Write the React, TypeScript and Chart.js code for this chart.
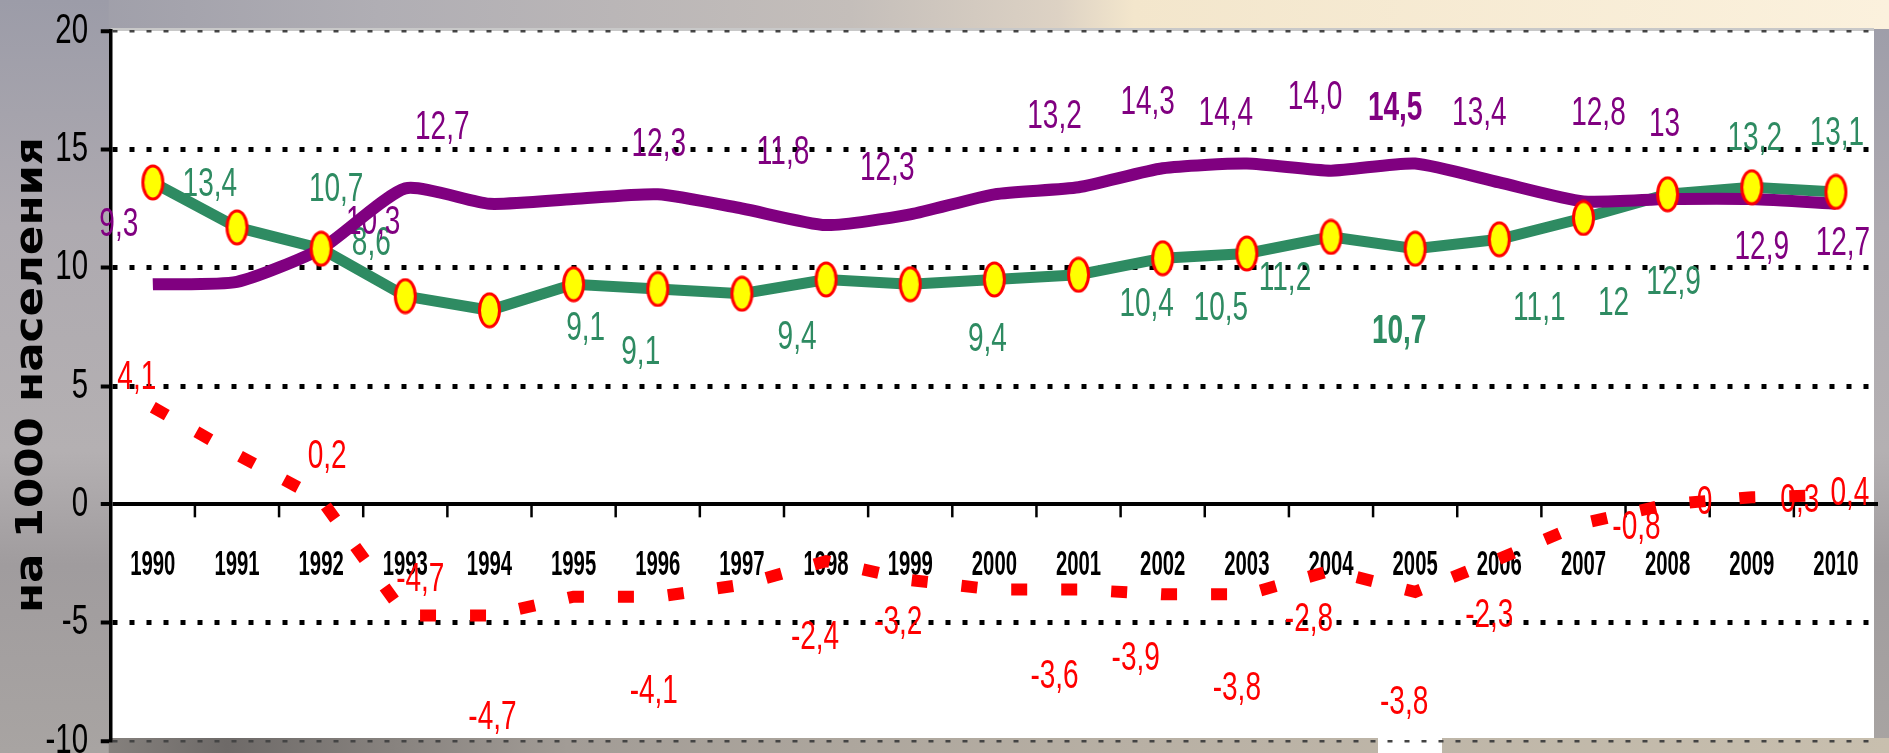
import React, { useEffect, useRef } from 'react';
import { Chart, registerables } from 'chart.js';

Chart.register(...registerables);

// ---------- data ----------
const years = ['1990', '1991', '1992', '1993', '1994', '1995', '1996', '1997', '1998', '1999', '2000',
  '2001', '2002', '2003', '2004', '2005', '2006', '2007', '2008', '2009', '2010'];

// green line with yellow markers
const birthRate = [13.6, 11.7, 10.8, 8.8, 8.2, 9.3, 9.1, 8.9, 9.5, 9.3, 9.5, 9.7, 10.4, 10.6, 11.3, 10.8, 11.2, 12.1, 13.1, 13.4, 13.2];
// purple line
const deathRate = [9.3, 9.4, 10.8, 13.35, 12.7, 12.9, 13.1, 12.5, 11.8, 12.25, 13.1, 13.4, 14.2, 14.4, 14.1, 14.4, 13.6, 12.8, 12.9, 12.9, 12.7];
// red dashed line
const naturalIncrease = [4.1, 2.1, 0.2, -4.7, -4.7, -3.9, -3.9, -3.4, -2.4, -3.2, -3.6, -3.6, -3.8, -3.8, -2.8, -3.7, -2.3, -0.8, 0, 0.3, 0.4];

// value labels as printed on the chart
const birthLabels = ['13,4', '', '10,7', '8,6', '', '9,1', '9,1', '', '9,4', '', '9,4', '', '10,4', '10,5', '11,2', '10,7', '11,1', '12', '12,9', '13,2', '13,1'];
const deathLabels = ['9,3', '', '10,3', '12,7', '', '', '12,3', '', '11,8', '12,3', '', '13,2', '14,3', '14,4', '14,0', '14,5', '13,4', '12,8', '13', '12,9', '12,7'];
const increaseLabels = ['4,1', '', '0,2', '-4,7', '-4,7', '', '-4,1', '', '-2,4', '-3,2', '', '-3,6', '-3,9', '-3,8', '-2,8', '-3,8', '-2,3', '-0,8', '0', '0,3', '0,4'];

const yMin = -10;
const yMax = 20;
const yStep = 5;
const yAxisTitle = 'на 1000 населения';

// ---------- layout / style (label placement offsets in px relative to the point) ----------
const birthLabelOffsets: (number[] | null)[] = [[57, 3], null, [15, -59], [-34, -52], null, [12, 45], [-17, 64], null, [-29, 58], null, [-7, 60], null, [-16, 47], [-26, 56], [-46, 42], [-16, 83], [40, 70], [30, 86], [6, 89], [3, -48], [1, -58]];
const deathLabelOffsets: (number[] | null)[] = [[-34, -59], null, [52, -26], [37, -60], null, null, [1, -49], null, [-43, -72], [-23, -45], null, [-24, -70], [-15, -65], [-21, -50], [-16, -73], [-20, -55], [-20, -68], [15, -87], [-3, -74], [10, 49], [7, 40]];
const increaseLabelOffsets: (number[] | null)[] = [[-16, -29], null, [6, -43], [15, -36], [3, 102], null, [-4, 95], null, [-11, 77], [-12, 43], null, [-24, 87], [-27, 65], [-10, 95], [-22, 49], [-11, 111], [-10, 57], [53, 5], [37, -1], [48, 4], [14, -1]];
const boldBirth = [15];
const boldDeath = [15];

const GREEN = '#2e8b62';
const PURPLE = '#800080';
const RED = '#ff0000';
const FONT = '"Liberation Sans", Arial, sans-serif';

function makeMarker(): HTMLCanvasElement {
  const c = document.createElement('canvas');
  c.width = 25;
  c.height = 37;
  const g = c.getContext('2d')!;
  g.beginPath();
  g.ellipse(12.5, 18.5, 10, 16.5, 0, 0, Math.PI * 2);
  g.fillStyle = '#ffff00';
  g.fill();
  g.lineWidth = 3;
  g.strokeStyle = '#ff0000';
  g.stroke();
  return c;
}

function drawText(ctx: CanvasRenderingContext2D, text: string, x: number, y: number, font: string, color: string, sx: number, align: CanvasTextAlign = 'center') {
  ctx.save();
  ctx.translate(x, y);
  ctx.scale(sx, 1);
  ctx.font = font;
  ctx.fillStyle = color;
  ctx.textAlign = align;
  ctx.textBaseline = 'middle';
  ctx.fillText(text, 0, 0);
  ctx.restore();
}

const backgroundPlugin = {
  id: 'photoBackground',
  beforeDraw(chart: any) {
    const { ctx, width, height, chartArea } = chart;
    ctx.save();
    // left strip
    const lg = ctx.createLinearGradient(0, 0, 0, height);
    lg.addColorStop(0, '#9c9ca8');
    lg.addColorStop(0.3, '#aeaab0');
    lg.addColorStop(0.6, '#b4b0b2');
    lg.addColorStop(0.75, '#a09c9e');
    lg.addColorStop(1, '#a8a4a2');
    ctx.fillStyle = lg;
    ctx.fillRect(0, 0, width, height);
    // top strip
    const tg = ctx.createLinearGradient(0, 0, width, 0);
    tg.addColorStop(0, '#9a9aa6');
    tg.addColorStop(0.2, '#b0aeb4');
    tg.addColorStop(0.45, '#c4beba');
    tg.addColorStop(0.56, '#ddd2c4');
    tg.addColorStop(0.6, '#f3e6cc');
    tg.addColorStop(1, '#fbf1dd');
    ctx.fillStyle = tg;
    ctx.fillRect(chartArea.left - 2, 0, width, chartArea.top - 2);
    // bottom strip
    const bg = ctx.createLinearGradient(0, 0, width, 0);
    bg.addColorStop(0, '#9a9590');
    bg.addColorStop(0.12, '#6e6a68');
    bg.addColorStop(0.3, '#a29c96');
    bg.addColorStop(0.6, '#b8b0a4');
    bg.addColorStop(1, '#c8bfae');
    ctx.fillStyle = bg;
    ctx.fillRect(chartArea.left - 2, chartArea.bottom - 3, width, height);
    // white plot panel
    ctx.fillStyle = '#c8c8c8';
    ctx.fillRect(chartArea.left, chartArea.top - 3, chartArea.right - chartArea.left - 4, 3);
    ctx.fillStyle = '#ffffff';
    ctx.fillRect(chartArea.left, chartArea.top, chartArea.right - chartArea.left - 4, chartArea.bottom - chartArea.top - 3);
    ctx.fillRect(1378, chartArea.bottom - 4, 64, height);
    ctx.restore();
  },
};

const textPlugin = {
  id: 'textLayer',
  beforeDatasetsDraw(chart: any) {
    const { ctx } = chart;
    const xs = chart.scales.x;
    const ys = chart.scales.y;
    const y0 = ys.getPixelForValue(0);
    // x tick marks (between categories) and category labels
    ctx.save();
    ctx.strokeStyle = '#000';
    ctx.lineWidth = 2.5;
    for (let i = 1; i < years.length; i++) {
      const bx = (xs.getPixelForValue(i - 1) + xs.getPixelForValue(i)) / 2;
      ctx.beginPath();
      ctx.moveTo(bx, y0);
      ctx.lineTo(bx, y0 + 13);
      ctx.stroke();
    }
    ctx.restore();
    years.forEach((yr, i) => {
      drawText(ctx, yr, xs.getPixelForValue(i), y0 + 61, `bold 35px ${FONT}`, '#000', 0.58);
    });
    // value labels
    const metaB = chart.getDatasetMeta(1);
    const metaD = chart.getDatasetMeta(2);
    const metaI = chart.getDatasetMeta(3);
    const put = (labels: string[], offs: (number[] | null)[], meta: any, color: string, bold: number[]) => {
      labels.forEach((t, i) => {
        const o = offs[i];
        if (!t || !o) return;
        const p = meta.data[i];
        drawText(ctx, t, p.x + o[0], p.y + o[1], `${bold.includes(i) ? 'bold ' : ''}40px ${FONT}`, color, 0.7);
      });
    };
    put(birthLabels, birthLabelOffsets, metaB, GREEN, boldBirth);
    put(deathLabels, deathLabelOffsets, metaD, PURPLE, boldDeath);
    put(increaseLabels, increaseLabelOffsets, metaI, RED, []);
  },
  afterDraw(chart: any) {
    const { ctx } = chart;
    const ys = chart.scales.y;
    // y tick labels
    ys.ticks.forEach((t: any) => {
      drawText(ctx, String(t.value), 88, ys.getPixelForValue(t.value), `42px ${FONT}`, '#000', 0.7, 'right');
    });
    // y axis title
    ctx.save();
    ctx.font = 'bold 40px "DejaVu Sans", sans-serif';
    const w = ctx.measureText(yAxisTitle).width;
    ctx.translate(42, 613);
    ctx.rotate(-Math.PI / 2);
    ctx.scale(476 / w, 0.95);
    ctx.fillStyle = '#000';
    ctx.textAlign = 'left';
    ctx.textBaseline = 'alphabetic';
    ctx.fillText(yAxisTitle, 0, 0);
    ctx.restore();
  },
};

export default function App() {
  const ref = useRef<HTMLCanvasElement>(null);
  useEffect(() => {
    if (!ref.current) return;
    const marker = makeMarker();
    const chart = new Chart(ref.current, {
      type: 'line',
      data: {
        labels: years,
        datasets: [
          {
            label: 'markers',
            data: birthRate,
            showLine: false,
            pointStyle: marker as any,
            pointRadius: 10,
            order: 0,
          },
          {
            label: 'birth',
            data: birthRate,
            borderColor: GREEN,
            borderWidth: 11,
            pointRadius: 0,
            tension: 0,
            order: 2,
          },
          {
            label: 'death',
            data: deathRate,
            borderColor: PURPLE,
            borderWidth: 12,
            pointRadius: 0,
            tension: 0.2,
            order: 1,
          },
          {
            label: 'increase',
            data: naturalIncrease,
            borderColor: RED,
            borderWidth: 12,
            borderDash: [16, 34],
            borderCapStyle: 'butt',
            pointRadius: 0,
            tension: 0,
            order: 3,
          },
        ],
      },
      options: {
        animation: false,
        responsive: true,
        maintainAspectRatio: false,
        layout: { padding: { left: 100.75, right: 4, top: 31, bottom: 12 } },
        plugins: { legend: { display: false }, tooltip: { enabled: false } },
        events: [],
        scales: {
          x: { type: 'category', display: false, offset: true },
          y: {
            min: yMin,
            max: yMax,
            ticks: { stepSize: yStep, display: false },
            grid: {
              color: (c: any) => (c.tick && (c.tick.value === yMax || c.tick.value === yMin) ? '#444' : '#000'),
              lineWidth: (c: any) => {
                const v = c.tick ? c.tick.value : 0;
                if (v === 0) return 4;
                if (v === yMax || v === yMin) return 2.5;
                return 5;
              },
              drawTicks: true,
              tickLength: 10,
              tickWidth: 4,
              tickColor: '#000',
              tickBorderDash: [],
            },
            border: {
              display: true,
              color: '#000',
              width: 3.5,
              dash: (c: any) => {
                const v = c.tick ? c.tick.value : 0;
                if (v === 0) return [];
                if (v === yMax || v === yMin) return [5, 12];
                return [5, 12];
              },
            },
          },
        },
      },
      plugins: [backgroundPlugin, textPlugin],
    });
    return () => chart.destroy();
  }, []);
  return (
    <div style={{ position: 'fixed', left: 0, top: 0, width: '1889px', height: '753px' }}>
      <canvas ref={ref} />
    </div>
  );
}
